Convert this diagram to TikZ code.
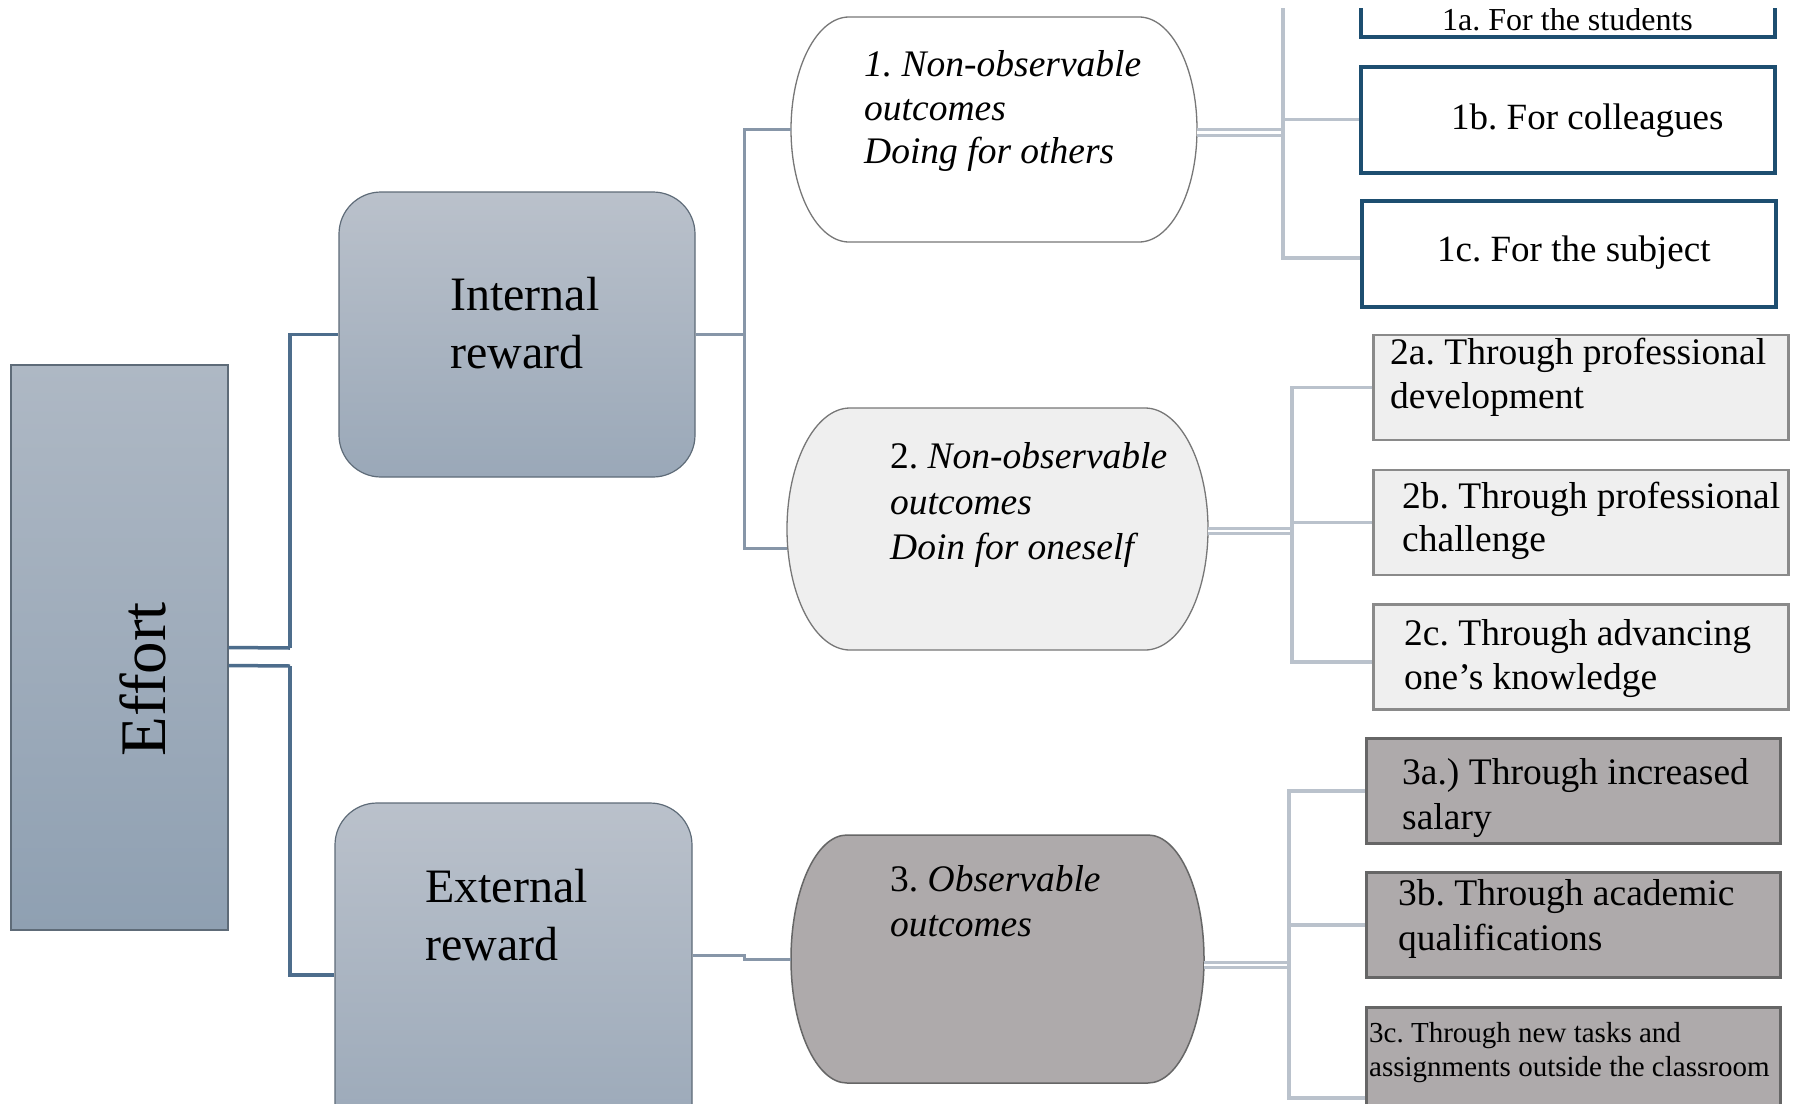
\documentclass[tikz,border=0pt]{standalone}
\usepackage{fontspec}
\setmainfont{Liberation Serif}
\usetikzlibrary{calc}
\frenchspacing
\definecolor{efftop}{HTML}{AEB8C4}
\definecolor{effbot}{HTML}{8FA0B2}
\definecolor{rtop}{HTML}{BAC1CB}
\definecolor{rbot}{HTML}{9AA8B8}
\definecolor{rborder}{HTML}{5E6B78}
\definecolor{dcol}{HTML}{4D6D8C}
\definecolor{mcol}{HTML}{8796A8}
\definecolor{gcol}{HTML}{BAC2CC}
\definecolor{bluebd}{HTML}{1D4E70}
\definecolor{lgfill}{HTML}{EFEFEF}
\definecolor{lgbd}{HTML}{8A8A8A}
\definecolor{dgfill}{HTML}{AEAAAB}
\definecolor{dgbd}{HTML}{666666}
\definecolor{barbd}{HTML}{777777}
\newcommand{\fs}[2]{\fontsize{#1}{#2}\selectfont\frenchspacing}
% barrel outline: x0,y0,x1,y1,a,style
\newcommand{\barrelpath}[6]{%
  \path[#6] (#1+#5,#2) -- (#3-#5,#2)
   .. controls ({#3-#5+0.5523*#5},#2) and (#3,{(#2+#4)/2-0.5523*(#4-#2)/2}) .. (#3,{(#2+#4)/2})
   .. controls (#3,{(#2+#4)/2+0.5523*(#4-#2)/2}) and ({#3-#5+0.5523*#5},#4) .. (#3-#5,#4)
   -- (#1+#5,#4)
   .. controls ({#1+#5-0.5523*#5},#4) and (#1,{(#2+#4)/2+0.5523*(#4-#2)/2}) .. (#1,{(#2+#4)/2})
   .. controls (#1,{(#2+#4)/2-0.5523*(#4-#2)/2}) and ({#1+#5-0.5523*#5},#2) .. (#1+#5,#2) -- cycle;}
\begin{document}
\begin{tikzpicture}[x=1pt,y=-1pt,
  lbl/.style={anchor=north west, inner sep=0pt, align=left},
  rbox/.style={draw=rborder, line width=1.2pt, rounded corners=42pt, top color=rtop, bottom color=rbot, inner sep=0pt},
  hold/.style={inner sep=0pt, outer sep=0pt},
  dline/.style={draw=dcol, line width=3.5pt},
  mline/.style={draw=mcol, line width=3pt},
  gline/.style={draw=gcol, line width=3.5pt},
  gdouble/.style={draw=gcol, line width=3pt, double=white, double distance=2.6pt},
  boxa/.style={draw=bluebd, line width=4pt, fill=white, minimum width=414pt, minimum height=106pt, inner sep=0pt},
  boxb/.style={draw=lgbd, line width=2.5pt, fill=lgfill, minimum width=415pt, minimum height=105pt, inner sep=0pt},
  boxc/.style={draw=dgbd, line width=3pt, fill=dgfill, minimum width=414pt, minimum height=105pt, inner sep=0pt}]
\useasboundingbox (0,0) rectangle (1795,1103);
\fill[white] (0,0) rectangle (1795,1103);
\clip (0,8) rectangle (1795,1103);

% ---- main boxes
\node[draw=rborder, line width=1.2pt, top color=efftop, bottom color=effbot,
      minimum width=217pt, minimum height=565pt, inner sep=0pt] (effort) at (119.5,647.5) {};
\node[rotate=90, anchor=base, inner sep=0pt, font=\fs{65}{78}] (efftxt) at (165,679) {Effort};

\node[rbox, minimum width=356pt, minimum height=285pt] (int) at (517,334.5) {};
\node[lbl, font=\fs{48}{58}] (inttxt) at (450,269.5) {\strut Internal\\reward};

\node[rbox, minimum width=357pt, minimum height=344pt] (ext) at (513.5,975) {};
\node[lbl, font=\fs{48}{58}] (exttxt) at (425,861.5) {\strut External\\reward};

% ---- barrel nodes
\barrelpath{791}{17}{1197}{242}{58}{draw=barbd, line width=1.3pt, fill=white}
\node[hold, minimum width=406pt, minimum height=225pt] (n1) at (994,129.5) {};
\node[lbl, font=\fs{37.5}{43.5}\itshape] (n1txt) at (864,46) {\strut 1. Non-observable\\outcomes\\Doing for others};

\barrelpath{787}{408}{1208}{650}{63}{draw=barbd, line width=1.3pt, fill=lgfill}
\node[hold, minimum width=421pt, minimum height=242pt] (n2) at (997.5,529) {};
\node[lbl, font=\fs{37.5}{45.5}] (n2txt) at (890,436.5) {\strut 2. \textit{Non-observable}\\\textit{outcomes}\\\textit{Doin for oneself}};

\barrelpath{791}{835}{1204}{1083}{56}{draw=dgbd, line width=1.5pt, fill=dgfill}
\node[hold, minimum width=413pt, minimum height=248pt] (n3) at (997.5,959) {};
\node[lbl, font=\fs{37.5}{45}] (n3txt) at (890,860) {\strut 3. \textit{Observable}\\\textit{outcomes}};

% ---- leaf boxes
\node[boxa] (b1a) at (1567.5,-16) {};
\node[boxa] (b1b) at (1568,119.5) {};
\node[boxa] (b1c) at (1569,254) {};
\node[lbl, font=\fs{32}{38}] (t1a) at (1442,3.5) {\strut 1a. For the students};
\node[lbl, font=\fs{37}{44}] (t1b) at (1451,98.5) {\strut 1b. For colleagues};
\node[lbl, font=\fs{37}{44}] (t1c) at (1437,230.5) {\strut 1c. For the subject};

\node[boxb] (b2a) at (1581,387.5) {};
\node[boxb] (b2b) at (1581,522.5) {};
\node[boxb] (b2c) at (1581,657) {};
\node[lbl, font=\fs{37.5}{44}] (t2a) at (1390,333.5) {\strut 2a. Through professional\\development};
\node[lbl, font=\fs{37.5}{43}] (t2b) at (1402,478) {\strut 2b. Through professional\\challenge};
\node[lbl, font=\fs{37.5}{44}] (t2c) at (1404,614) {\strut 2c. Through advancing\\one’s knowledge};

\node[boxc] (b3a) at (1573.5,791) {};
\node[boxc] (b3b) at (1573.5,925) {};
\node[boxc] (b3c) at (1573.5,1060) {};
\node[lbl, font=\fs{37.5}{45}] (t3a) at (1402,753) {\strut 3a.) Through increased\\salary};
\node[lbl, font=\fs{37.5}{45}] (t3b) at (1398,874) {\strut 3b. Through academic\\qualifications};
\node[lbl, font=\fs{29}{34}] (t3c) at (1369,1018) {\strut 3c. Through new tasks and\\assignments outside the classroom};

% ---- connectors: Effort
\coordinate (j1) at (290,648);
\coordinate (j2) at (290,666);
\draw[dline] (effort.east) -- (j1);
\draw[dline] ($(effort.east)+(0,18)$) -- (j2);
\draw[dline] (int.west) -| (j1);
\draw[dline] (ext.west) -| (j2);

% ---- connectors: rewards to outcomes
\coordinate (k) at (744,334.5);
\draw[mline] (int.east) -- (k) |- (n1.west);
\draw[mline] (k) |- ($(n2.west)+(0,19)$);
\coordinate (k3a) at (744,955);
\coordinate (k3b) at (744,959);
\draw[mline] ($(ext.east)+(0,-20)$) -- (k3a) -- (k3b) -- (n3.west);

% ---- connectors: group 1
\coordinate (g1) at (1283,0);
\draw[gdouble] ($(n1.east)+(0,3)$) -- ($(n1.east -| g1)+(0,3)$);
\draw[gline] (b1a.west) -- (b1a.west -| g1) -- ($(b1c.west -| g1)+(0,4)$) -- ($(b1c.west)+(0,4)$);
\draw[gline] (b1b.west -| g1) -- (b1b.west);

% ---- connectors: group 2
\coordinate (g2) at (1292,0);
\draw[gdouble] ($(n2.east)+(0,2)$) -- ($(n2.east -| g2)+(0,2)$);
\draw[gline] (b2a.west) -- (b2a.west -| g2) -- ($(b2c.west -| g2)+(0,5)$) -- ($(b2c.west)+(0,5)$);
\draw[gline] (b2b.west -| g2) -- (b2b.west);

% ---- connectors: group 3
\coordinate (g3) at (1289,0);
\draw[gdouble] ($(n3.east)+(0,6)$) -- ($(n3.east -| g3)+(0,6)$);
\draw[gline] (b3a.west) -- (b3a.west -| g3) -- ($(b3c.west -| g3)+(0,38)$) -- ($(b3c.west)+(0,38)$);
\draw[gline] (b3b.west -| g3) -- (b3b.west);
\end{tikzpicture}
\end{document}
